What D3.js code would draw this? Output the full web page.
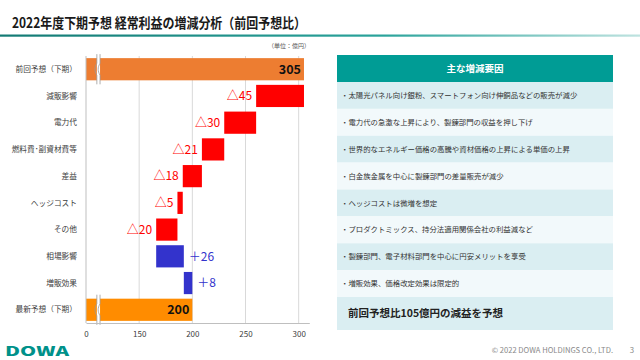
<!DOCTYPE html>
<html><head><meta charset="utf-8">
<script src="https://cdn.jsdelivr.net/npm/d3@7"></script>
<style>body{margin:0;background:#fff}svg{display:block}text{font-family:"Noto Sans CJK JP","Noto Sans",sans-serif}</style>
</head><body><svg id="c" width="640" height="360"></svg>
<script>
const categories = ["前回予想（下期）","減販影響","電力代","燃料費･副資材費等","差益","ヘッジコスト","その他","相場影響","増販効果","最新予想（下期）"];
const deltas = [305,-45,-30,-21,-18,-5,-20,26,8,200];
const kinds = ["total","delta","delta","delta","delta","delta","delta","delta","delta","total"];
const tickValues = [100,150,200,250,300];
const tickLabels = ["0","150","200","250","300"];
const factors = ["・太陽光パネル向け銀粉、スマートフォン向け伸銅品などの販売が減少","・電力代の急激な上昇により、製錬部門の収益を押し下げ","・世界的なエネルギー価格の高騰や資材価格の上昇による単価の上昇","・白金族金属を中心に製錬部門の差量販売が減少","・ヘッジコストは微増を想定","・プロダクトミックス、持分法適用関係会社の利益減など","・製錬部門、電子材料部門を中心に円安メリットを享受","・増販効果、価格改定効果は限定的"];
const summary = "前回予想比105億円の減益を予想";

const svg = d3.select("#c");
// title
svg.append("text").attr("x",12).attr("y",27.5).attr("font-size",14).attr("font-weight",700).attr("fill","#1a1a1a")
  .attr("textLength",294).attr("lengthAdjust","spacingAndGlyphs")
  .text("2022年度下期予想 経常利益の増減分析（前回予想比）");
const grad = svg.append("defs").append("linearGradient").attr("id","tg");
grad.append("stop").attr("offset","0").attr("stop-color","#137a74");
grad.append("stop").attr("offset","0.6").attr("stop-color","#2aa39b");
grad.append("stop").attr("offset","1").attr("stop-color","#bfe3e0");
svg.append("rect").attr("x",0).attr("y",34.5).attr("width",640).attr("height",2.2).attr("fill","url(#tg)");
svg.append("text").attr("x",310).attr("y",48).attr("text-anchor","end").attr("font-size",6).attr("fill","#555").text("（単位：億円）");

// compute waterfall
let run = 0;
const bars = categories.map((c,i)=>{
  let x0,x1;
  if(kinds[i]==="total"){ x0=100; x1=deltas[i]; run=deltas[i]; }
  else { const nr=run+deltas[i]; x0=Math.min(run,nr); x1=Math.max(run,nr); run=nr; }
  return {c,i,x0,x1,v:deltas[i],kind:kinds[i]};
});

const x = d3.scaleLinear().domain([100,310]).range([86,309.3]);
const y = d3.scaleBand().domain(categories).range([56,323]).paddingInner(0.17).paddingOuter(0.08);

const g = svg.append("g");
// grid
g.selectAll("line.grid").data(tickValues.slice(1)).join("line")
  .attr("x1",d=>x(d)).attr("x2",d=>x(d)).attr("y1",56).attr("y2",323).attr("stroke","#d9d9d9").attr("stroke-width",1);
// bars
const colorOf = d=> d.kind==="total" ? (d.i===0?"#ED7D31":"#FF8C00") : (d.v<0?"#FF0000":"#3333CC");
g.selectAll("rect.bar").data(bars).join("rect")
  .attr("x",d=>x(d.x0)).attr("width",d=>x(d.x1)-x(d.x0))
  .attr("y",d=>y(d.c)).attr("height",y.bandwidth()).attr("fill",colorOf);
// break marks
bars.filter(d=>d.kind==="total").forEach(d=>{
  const t=y(d.c)-4, b=y(d.c)+y.bandwidth()+4;
  const wave = (x0)=>{const h=(b-t); return `M${x0},${t} L${x0},${t+h*0.3} C${x0-2.5},${t+h*0.45} ${x0-2.5},${t+h*0.55} ${x0},${t+h*0.7} L${x0},${b}`;};
  const xa=x(110.2), xb=x(113.2);
  g.append("rect").attr("x",xa).attr("y",t).attr("width",xb-xa).attr("height",b-t).attr("fill","#fff");
  g.append("path").attr("d",wave(xa)).attr("fill","none").attr("stroke","#9a9a9a").attr("stroke-width",0.8);
  g.append("path").attr("d",wave(xb)).attr("fill","none").attr("stroke","#9a9a9a").attr("stroke-width",0.8);
});
// axes
const xAxis = d3.axisBottom(x).tickValues(tickValues).tickFormat((d,i)=>tickLabels[i]).tickSize(0).tickPadding(8);
const ax = svg.append("g").attr("transform","translate(0,323)").call(xAxis);
ax.select(".domain").attr("stroke","#bfbfbf");
ax.selectAll("text").attr("font-size",8).attr("fill","#404040").attr("font-family","'Noto Sans',sans-serif");
svg.append("line").attr("x1",86).attr("x2",86).attr("y1",56).attr("y2",323).attr("stroke","#bfbfbf");
// category labels
svg.selectAll("text.cat").data(categories).join("text")
  .attr("x",77).attr("y",d=>y(d)+y.bandwidth()/2).attr("dy","0.35em").attr("text-anchor","end")
  .attr("font-size",7.7).attr("fill","#404040").text(d=>d);
// value labels
g.selectAll("text.val").data(bars).join("text")
  .attr("x",d=>d.kind==="total"?x(d.x1)-3:(d.v<0?x(d.x0)-4:x(d.x1)+5))
  .attr("y",d=>y(d.c)+y.bandwidth()/2).attr("dy","0.36em")
  .attr("text-anchor",d=>d.kind==="total"||d.v<0?"end":"start")
  .attr("font-size",d=>d.kind==="total"?12.5:12).attr("font-weight",d=>d.kind==="total"?700:400)
  .attr("font-family","'Noto Sans CJK JP','Noto Sans',sans-serif")
  .attr("fill",d=>d.kind==="total"?"#111":(d.v<0?"#FF0000":"#3333CC"))
  .text(d=>d.kind==="total"?d.v:(d.v<0?"△"+(-d.v):"＋"+d.v));

// right table
const tx=337, tw=276;
svg.append("rect").attr("x",tx).attr("y",55).attr("width",tw).attr("height",27).attr("fill","#009C95");
svg.append("text").attr("x",tx+tw/2).attr("y",68.5).attr("dy","0.35em").attr("text-anchor","middle").attr("font-size",9.5).attr("font-weight",700).attr("fill","#fff").text("主な増減要因");
const rowY = d3.scaleBand().domain(d3.range(factors.length)).range([82,297]);
svg.selectAll("rect.row").data(factors).join("rect")
  .attr("x",tx).attr("width",tw).attr("y",(d,i)=>rowY(i)).attr("height",rowY.bandwidth())
  .attr("fill",(d,i)=>i%2===0?"#DAEEF2":"#F2F9FB");
svg.selectAll("text.row").data(factors).join("text")
  .attr("x",tx+4).attr("y",(d,i)=>rowY(i)+rowY.bandwidth()/2).attr("dy","0.35em")
  .attr("font-size",7.4).attr("fill","#333").text(d=>d);
svg.append("rect").attr("x",tx).attr("y",297).attr("width",tw).attr("height",33).attr("fill","#DAEEF2");
svg.append("text").attr("x",tx+11).attr("y",313.5).attr("dy","0.35em").attr("font-size",10.5).attr("font-weight",700).attr("fill","#222").text(summary);

// footer
svg.append("text").attr("x",5).attr("y",356).attr("font-size",13).attr("font-weight",900).attr("fill","#00918A")
  .attr("font-family","'DejaVu Sans',sans-serif").attr("textLength",64).attr("lengthAdjust","spacingAndGlyphs").text("DOWA");
svg.append("text").attr("x",613).attr("y",353).attr("text-anchor","end").attr("font-size",7.6).attr("fill","#888")
  .attr("font-family","'Noto Sans',sans-serif").text("© 2022 DOWA HOLDINGS CO., LTD.");
svg.append("text").attr("x",634).attr("y",353).attr("text-anchor","end").attr("font-size",7.8).attr("fill","#888")
  .attr("font-family","'Noto Sans',sans-serif").text("3");
</script></body></html>
